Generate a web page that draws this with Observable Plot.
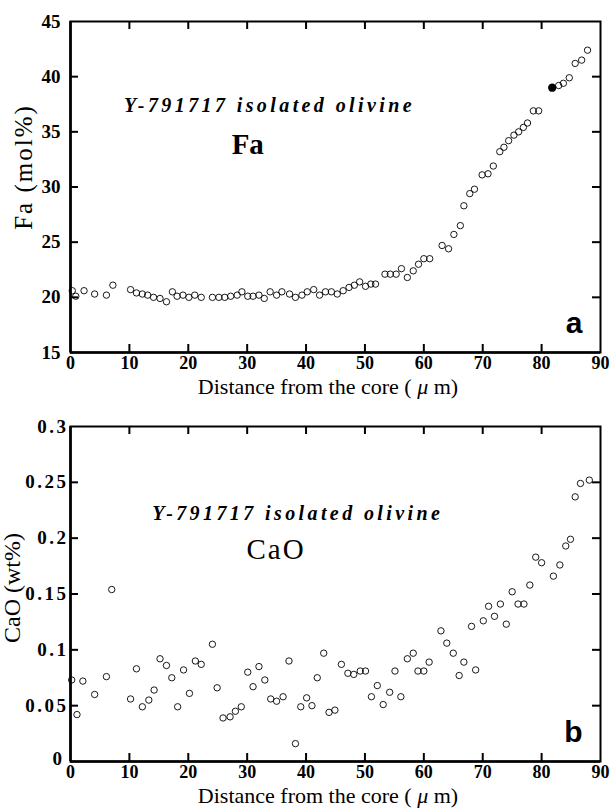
<!DOCTYPE html>
<html><head><meta charset="utf-8">
<script src="https://cdn.jsdelivr.net/npm/d3@7"></script>
<script src="https://cdn.jsdelivr.net/npm/@observablehq/plot@0.6"></script>
<style>body{margin:0;background:#fff} svg{display:block}</style>
</head><body><div id="chart"></div>
<script>
// ---- data ----
const faDist = [0.3, 0.9, 2.3, 4.1, 6.1, 7.2, 10.2, 11.2, 12.2, 13.1, 14.1, 15.2, 16.3, 17.3, 18.1, 19.1, 20.1, 21.1, 22.2, 24.1, 25.2, 26.2, 27.2, 28.3, 29.1, 30.1, 31.0, 32.0, 32.9, 33.9, 35.0, 35.9, 37.2, 38.2, 39.3, 40.2, 41.3, 42.3, 43.3, 44.3, 45.3, 46.3, 47.3, 48.2, 49.1, 50.1, 51.0, 51.8, 53.4, 54.3, 55.3, 56.2, 57.2, 58.2, 59.1, 60.0, 61.0, 63.1, 64.2, 65.1, 66.2, 66.8, 67.8, 68.6, 69.9, 70.9, 71.8, 72.9, 73.6, 74.4, 75.3, 76.1, 76.9, 77.6, 78.6, 79.5, 82.9, 83.7, 84.7, 85.7, 86.8, 87.8];
const faVal = [20.6, 20.1, 20.6, 20.3, 20.2, 21.1, 20.7, 20.4, 20.3, 20.2, 20.0, 19.9, 19.6, 20.5, 20.1, 20.2, 20.0, 20.2, 20.0, 20.0, 20.0, 20.0, 20.1, 20.2, 20.5, 20.1, 20.1, 20.2, 19.9, 20.5, 20.2, 20.5, 20.3, 20.0, 20.2, 20.5, 20.7, 20.2, 20.5, 20.5, 20.3, 20.6, 20.9, 21.1, 21.4, 21.0, 21.2, 21.2, 22.1, 22.1, 22.1, 22.6, 21.8, 22.4, 23.0, 23.5, 23.5, 24.7, 24.4, 25.7, 26.5, 28.3, 29.4, 29.8, 31.1, 31.2, 31.9, 33.2, 33.6, 34.2, 34.7, 35.0, 35.4, 35.8, 36.9, 36.9, 39.2, 39.4, 39.9, 41.2, 41.5, 42.4];
const faFilledDist = [81.8];
const faFilledVal = [39.0];

const caoDist = [0.2, 1.1, 2.1, 4.1, 6.1, 7.0, 10.2, 11.2, 12.2, 13.3, 14.2, 15.2, 16.3, 17.2, 18.2, 19.2, 20.2, 21.2, 22.2, 24.1, 24.9, 25.9, 27.1, 28.0, 29.0, 30.1, 31.0, 32.0, 33.0, 34.0, 35.0, 36.1, 37.1, 38.2, 39.1, 40.1, 41.0, 41.9, 43.0, 43.9, 44.9, 46.0, 47.1, 48.1, 49.2, 50.1, 51.1, 52.1, 53.1, 54.2, 55.1, 56.1, 57.2, 58.2, 59.0, 60.0, 60.9, 62.9, 63.9, 65.0, 66.0, 66.8, 68.1, 68.8, 70.1, 71.0, 72.0, 73.0, 74.0, 75.0, 76.0, 77.0, 78.0, 79.0, 80.0, 82.0, 83.1, 84.1, 84.9, 85.7, 86.6, 88.1];
const caoVal = [0.073, 0.042, 0.072, 0.060, 0.076, 0.154, 0.056, 0.083, 0.049, 0.055, 0.064, 0.092, 0.086, 0.075, 0.049, 0.082, 0.061, 0.090, 0.087, 0.105, 0.066, 0.039, 0.040, 0.045, 0.049, 0.080, 0.067, 0.085, 0.073, 0.056, 0.054, 0.058, 0.090, 0.016, 0.049, 0.057, 0.050, 0.075, 0.097, 0.044, 0.046, 0.087, 0.079, 0.078, 0.081, 0.081, 0.058, 0.068, 0.051, 0.062, 0.081, 0.058, 0.092, 0.097, 0.081, 0.081, 0.089, 0.117, 0.106, 0.097, 0.077, 0.089, 0.121, 0.082, 0.126, 0.139, 0.130, 0.141, 0.123, 0.152, 0.141, 0.141, 0.158, 0.183, 0.178, 0.166, 0.176, 0.193, 0.199, 0.237, 0.249, 0.252];

const xTicks = [0, 10, 20, 30, 40, 50, 60, 70, 80, 90];
const xTickLabels = ["0", "10", "20", "30", "40", "50", "60", "70", "80", "90"];
const faTicks = [15, 20, 25, 30, 35, 40, 45];
const faTickLabels = ["15", "20", "25", "30", "35", "40", "45"];
const caoTicks = [0, 0.05, 0.1, 0.15, 0.2, 0.25, 0.3];
const caoTickLabels = ["0", "0.05", "0.1", "0.15", "0.2", "0.25", "0.3"];

const sampleTitle = "Y-791717 isolated olivine";
const xTitle = ["Distance from the core ( ", "μ", " m)"];

// ---- drawing ----
const W = 612, H = 405;
const serif = "'Liberation Serif', 'Times New Roman', serif";
const sans = "'Liberation Sans', Arial, sans-serif";
const ml = 70, mr = 12;

function panel(cfg) {
  const fw = W - ml - mr, fh = H - cfg.mt - cfg.mb;
  const yInner = cfg.yTicks.slice(1, -1);
  const xInner = xTicks.slice(1, -1);
  const svg = Plot.plot({
    width: W, height: H,
    marginLeft: ml, marginRight: mr, marginTop: cfg.mt, marginBottom: cfg.mb,
    x: {domain: [0, 90], label: null},
    y: {domain: [cfg.yTicks[0], cfg.yTicks[cfg.yTicks.length - 1]], label: null},
    style: {fontFamily: serif, background: "white", color: "black"},
    marks: [
      Plot.axisY(cfg.yTicks, {tickSize: 0, tickPadding: cfg.yPad, fontSize: 19, fontWeight: "bold",
        tickFormat: d => cfg.yTickLabels[cfg.yTicks.indexOf(d)], label: null}),
      Plot.axisX(xTicks, {tickSize: 0, tickPadding: 4, fontSize: 18, fontWeight: "bold",
        tickFormat: d => xTickLabels[xTicks.indexOf(d)], label: null}),
      Plot.tickY(yInner, {y: d => d, insetRight: fw - 8, strokeWidth: 2}),
      Plot.tickY(yInner, {y: d => d, insetLeft: fw - 8, strokeWidth: 2}),
      Plot.tickX(xInner, {x: d => d, insetTop: fh - 8, strokeWidth: 2}),
      Plot.tickX(xInner, {x: d => d, insetBottom: fh - 8, strokeWidth: 2}),
      Plot.frame({strokeWidth: 2}),
      Plot.ruleX([0], {strokeWidth: 2.6}),
      Plot.ruleY([cfg.yTicks[0]], {strokeWidth: 2.6}),
      Plot.dot(cfg.vals, {x: cfg.dists, y: cfg.vals, r: 3.2, stroke: "black", strokeWidth: 0.9, fill: "none"}),
      cfg.filledVals ? Plot.dot(cfg.filledVals, {x: cfg.filledDists, y: cfg.filledVals, r: 3.4, fill: "black", stroke: "black"}) : null,
      Plot.text([sampleTitle], {x: cfg.titleX, y: cfg.titleY, text: d => d, fontSize: 20, fontWeight: "bold",
        fontStyle: "italic", textAnchor: "middle", lineAnchor: "middle"}),
      Plot.text([cfg.species], {x: cfg.specX, y: cfg.specY, text: d => d, fontSize: cfg.specSize, fontWeight: cfg.specWeight,
        textAnchor: "middle", lineAnchor: "middle"}),
      Plot.text([cfg.letter], {frameAnchor: "bottom-right", dx: -18, dy: -20, fontSize: 30, fontWeight: "bold",
        fontFamily: sans, textAnchor: "end", lineAnchor: "bottom"})
    ]
  });
  const s = d3.select(svg);
  // letter spacing like the original typesetting
  s.selectAll("text").each(function () {
    const txt = this.textContent;
    if (txt === sampleTitle) d3.select(this).attr("letter-spacing", "3.4px");
    if (txt === cfg.species) d3.select(this).attr("letter-spacing", cfg.specLS + "px");
    const inY = this.closest("g[aria-label='y-axis tick label']");
    if (inY && cfg.yLS) d3.select(this).attr("letter-spacing", cfg.yLS + "px");
    if (inY && txt === cfg.yTickLabels[0] && cfg.zeroShift) {
      const tr = d3.select(this).attr("transform") || "";
      d3.select(this).attr("transform", tr + ` translate(${-cfg.zeroShift},-3)`);
    }
  });
  const t = s.append("text").attr("x", 328).attr("y", H - cfg.mb + cfg.xTitleDy)
    .attr("text-anchor", "middle").attr("font-family", serif).attr("font-size", 22).attr("fill", "black");
  t.append("tspan").text(xTitle[0]);
  t.append("tspan").attr("font-style", "italic").text(xTitle[1]);
  t.append("tspan").text(xTitle[2]);
  s.append("text").attr("transform", `translate(${cfg.yLabX},${cfg.yLabY}) rotate(-90)`)
    .attr("text-anchor", "middle").attr("dominant-baseline", "central")
    .attr("letter-spacing", cfg.yLabLS + "px")
    .attr("font-family", serif).attr("font-size", cfg.yLabSize).attr("fill", "black").text(cfg.yLabel);
  return svg;
}

const panelA = panel({
  mt: 21, mb: 53, yTicks: faTicks, yTickLabels: faTickLabels, yPad: 10, yLS: 0, zeroShift: 0,
  dists: faDist, vals: faVal, filledDists: faFilledDist, filledVals: faFilledVal,
  titleX: 33.8, titleY: 37.4, species: "Fa", specX: 30.1, specY: 33.8, specSize: 29, specWeight: "bold", specLS: 0,
  letter: "a", yLabel: "Fa (mol%)", yLabX: 23, yLabY: 167, yLabSize: 25, yLabLS: 2, xTitleDy: 42
});
const panelB = panel({
  mt: 21, mb: 49, yTicks: caoTicks, yTickLabels: caoTickLabels, yPad: 2, yLS: 2.5, zeroShift: 4,
  dists: caoDist, vals: caoVal,
  titleX: 38.6, titleY: 0.222, species: "CaO", specX: 34.9, specY: 0.19, specSize: 29, specWeight: "normal", specLS: 2,
  letter: "b", yLabel: "CaO (wt%)", yLabX: 12, yLabY: 183, yLabSize: 24, yLabLS: 0, xTitleDy: 42
});
document.getElementById("chart").append(panelA, panelB);
</script>
</body></html>
